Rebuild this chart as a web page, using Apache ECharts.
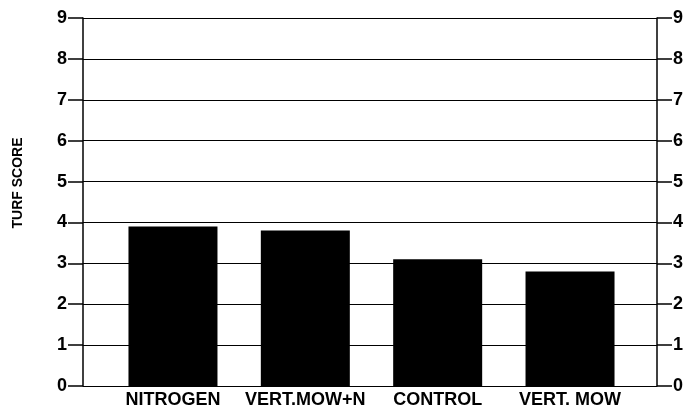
<!DOCTYPE html>
<html>
<head>
<meta charset="utf-8">
<script src="https://cdn.jsdelivr.net/npm/echarts@6/dist/echarts.min.js"></script>
<style>html,body{margin:0;padding:0;background:#fff}#c{width:689px;height:411px}</style>
</head>
<body>
<div id="c"></div>
<script>
var categories = ['NITROGEN', 'VERT.MOW+N', 'CONTROL', 'VERT. MOW'];
var turfScores = [3.9, 3.8, 3.1, 2.8];
var yTicks = [0, 1, 2, 3, 4, 5, 6, 7, 8, 9];

var chart = echarts.init(document.getElementById('c'), null, {renderer: 'canvas'});
var FONT = '"Liberation Sans", Arial, Helvetica, sans-serif';
var yMin = yTicks[0], yMax = yTicks[yTicks.length - 1];

function yAxisCfg(pos, showSplit) {
  return {
    type: 'value', gridIndex: 0, position: pos, min: yMin, max: yMax, interval: 1,
    axisLine: {show: true, lineStyle: {color: '#000', width: 1.5}},
    axisTick: {show: true, inside: false, length: 15, lineStyle: {color: '#000', width: 1.5}},
    axisLabel: {color: '#000', fontFamily: FONT, fontWeight: 'bold', fontSize: 18, margin: 16},
    splitLine: {show: showSplit, lineStyle: {color: '#000', width: 1.2}}
  };
}

chart.setOption({
  animation: false,
  backgroundColor: '#fff',
  grid: [
    {left: 83, right: 32, top: 18, bottom: 25},
    {left: 106.8, right: 52.8, top: 18, bottom: 25}
  ],
  xAxis: [
    {type: 'value', gridIndex: 0, show: false, min: 0, max: 1},
    {type: 'category', gridIndex: 1, data: categories, boundaryGap: true,
     axisLine: {show: false}, axisTick: {show: false},
     axisLabel: {color: '#000', fontFamily: FONT, fontWeight: 'bold', fontSize: 18, margin: 5, interval: 0}}
  ],
  yAxis: [
    yAxisCfg('left', true),
    yAxisCfg('right', false),
    {type: 'value', gridIndex: 1, min: yMin, max: yMax, show: false}
  ],
  graphic: [{
    type: 'text', x: 18.5, y: 183, rotation: Math.PI / 2,
    style: {text: 'TURF SCORE', fill: '#000', font: 'bold 14px ' + FONT, align: 'center', verticalAlign: 'middle'}
  }],
  series: [{
    type: 'bar', xAxisIndex: 1, yAxisIndex: 2, data: turfScores,
    barWidth: 89, itemStyle: {color: '#000'}, z: 5
  }]
});
</script>
</body>
</html>
